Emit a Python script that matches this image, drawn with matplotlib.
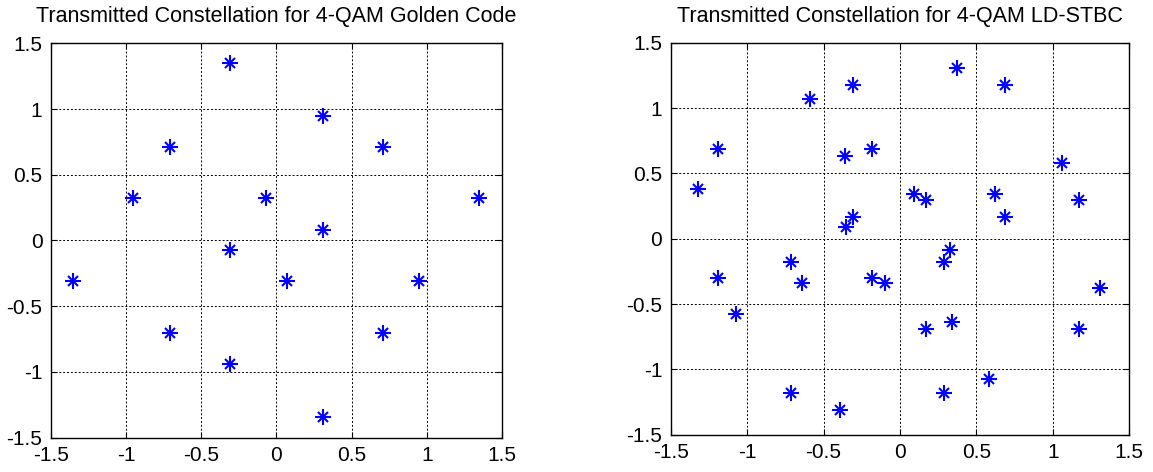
import matplotlib
matplotlib.use('Agg')
import matplotlib.pyplot as plt
import numpy as np

plt.rcParams['font.family'] = ['Liberation Sans', 'DejaVu Sans']
plt.rcParams['axes.unicode_minus'] = False

# 4-QAM Golden Code constellation points
golden_x = [-0.31, 0.31, -0.71, 0.71, -0.95, -0.07, 1.35, 0.31,
            -0.31, -1.35, 0.07, 0.95, -0.71, 0.71, -0.31, 0.31]
golden_y = [1.35, 0.95, 0.71, 0.71, 0.32, 0.32, 0.32, 0.08,
            -0.07, -0.31, -0.31, -0.31, -0.70, -0.70, -0.94, -1.34]

# 4-QAM LD-STBC constellation points
ld_x = [0.37, -0.31, 0.69, -0.59, -1.19, -0.18, -0.36, 1.06,
        -1.32, 0.09, 0.17, 0.62, 1.17, -0.31, 0.69, -0.35,
        0.33, -0.71, 0.29, -1.19, -0.18, -0.64, -0.10, 1.31,
        -1.07, 0.34, 0.17, 1.17, 0.58, -0.71, 0.29, -0.39]
ld_y = [1.31, 1.18, 1.18, 1.07, 0.69, 0.69, 0.63, 0.58,
        0.38, 0.34, 0.30, 0.34, 0.30, 0.17, 0.17, 0.09,
        -0.09, -0.18, -0.18, -0.30, -0.30, -0.34, -0.34, -0.38,
        -0.58, -0.64, -0.69, -0.69, -1.07, -1.18, -1.18, -1.31]

ticks = [-1.5, -1, -0.5, 0, 0.5, 1, 1.5]
tick_labels = ['-1.5', '-1', '-0.5', '0', '0.5', '1', '1.5']

fig = plt.figure(figsize=(11.53, 4.72), dpi=100)
ax1 = fig.add_axes([0.044, 0.0727, 0.3914, 0.8356])
ax2 = fig.add_axes([0.5817, 0.079, 0.3977, 0.8305])


def star(ax, x, y):
    # matlab-ish asterisk: plus + cross
    ax.plot(x, y, linestyle='none', marker='+', color='blue', markersize=11, mew=1.5)
    ax.plot(x, y, linestyle='none', marker='x', color='blue', markersize=7, mew=1.5)


for ax, xs, ys, title in [(ax1, golden_x, golden_y, 'Transmitted Constellation for 4-QAM Golden Code'),
                          (ax2, ld_x, ld_y, 'Transmitted Constellation for 4-QAM LD-STBC')]:
    star(ax, xs, ys)
    ax.set_xlim(-1.5, 1.5)
    ax.set_ylim(-1.5, 1.5)
    ax.set_xticks(ticks)
    ax.set_xticklabels(tick_labels)
    ax.set_yticks(ticks)
    ax.set_yticklabels(tick_labels)
    ax.grid(True, color='black', linestyle=(0, (2, 2)), linewidth=0.7)
    ax.tick_params(direction='in', length=4, labelsize=15, pad=6, top=True, right=True)
    for s in ax.spines.values():
        s.set_linewidth(1.0)
    ax.set_title(title, fontsize=15.5, pad=15)

fig.savefig('out.png', dpi=100)
